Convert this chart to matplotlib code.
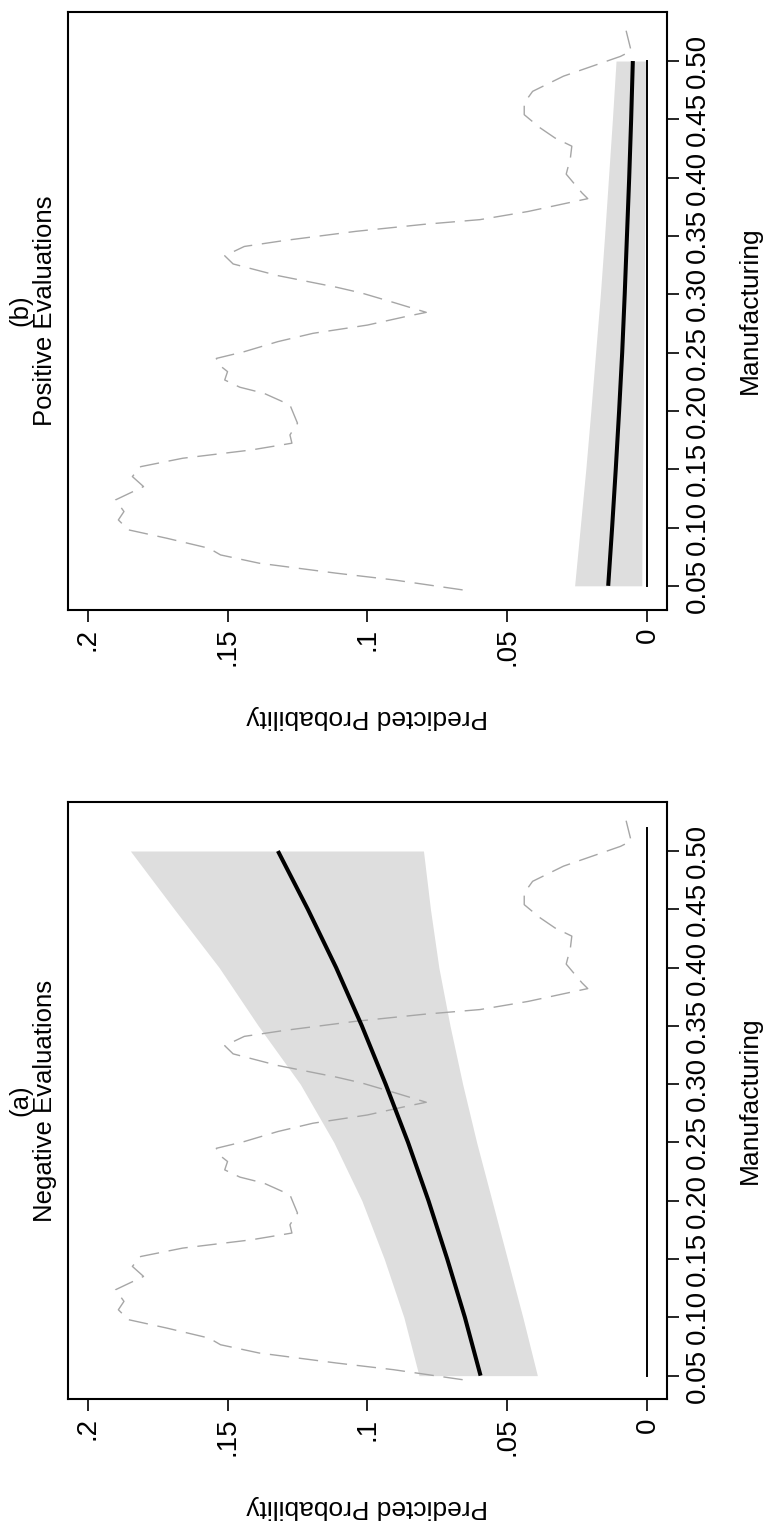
import matplotlib
matplotlib.use("Agg")
from matplotlib import pyplot as plt

plt.rcParams['font.family'] = ['Liberation Sans', 'DejaVu Sans']

# manufacturing share grid used for the predictions
manuf = [0.05, 0.10, 0.15, 0.20, 0.25, 0.30, 0.35, 0.40, 0.45, 0.50]

# (a) negative evaluations
neg_pred = [0.0596, 0.0652, 0.0715, 0.0782, 0.0855, 0.0935, 0.1020, 0.1112, 0.1213, 0.1320]
neg_lo = [0.0393, 0.0445, 0.0500, 0.0555, 0.0610, 0.0660, 0.0705, 0.0745, 0.0775, 0.0800]
neg_hi = [0.0816, 0.0870, 0.0940, 0.1020, 0.1120, 0.1240, 0.1390, 0.1530, 0.1690, 0.1847]

# (b) positive evaluations
pos_pred = [0.0140, 0.0126, 0.0113, 0.0101, 0.0090, 0.0081, 0.0073, 0.0065, 0.0058, 0.0052]
pos_lo = [0.0020, 0.0019, 0.0017, 0.0015, 0.0013, 0.0011, 0.0010, 0.0008, 0.0007, 0.0006]
pos_hi = [0.0260, 0.0240, 0.0220, 0.0202, 0.0185, 0.0168, 0.0153, 0.0139, 0.0125, 0.0112]

# kernel density of manufacturing (drawn on the probability scale)
dens_x = [0.0465, 0.0551, 0.0608, 0.0694, 0.0765, 0.0822, 0.0908, 0.0980, 0.1065, 0.1137,
          0.1237, 0.1351, 0.1437, 0.1522, 0.1594, 0.1665, 0.1723, 0.1794, 0.1894, 0.2051,
          0.2151, 0.2203, 0.2265, 0.2337, 0.2394, 0.2450, 0.2508, 0.2594, 0.2665, 0.2736,
          0.2808, 0.2845, 0.2930, 0.3010, 0.3060, 0.3160, 0.3260, 0.3330, 0.3410, 0.3460,
          0.3540, 0.3600, 0.3640, 0.3710, 0.3820, 0.3870, 0.4030, 0.4170, 0.4270, 0.4340,
          0.4430, 0.4540, 0.4640, 0.4740, 0.4870, 0.4970, 0.5040, 0.5086, 0.5260]
dens_y = [0.0660, 0.0907, 0.1110, 0.1387, 0.1525, 0.1566, 0.1717, 0.1854, 0.1890, 0.1870,
          0.1900, 0.1800, 0.1840, 0.1810, 0.1660, 0.1415, 0.1270, 0.1277, 0.1250, 0.1277,
          0.1370, 0.1456, 0.1510, 0.1500, 0.1530, 0.1540, 0.1440, 0.1320, 0.1195, 0.1000,
          0.0865, 0.0790, 0.0907, 0.1020, 0.1110, 0.1320, 0.1480, 0.1510, 0.1440, 0.1300,
          0.1040, 0.0797, 0.0598, 0.0426, 0.0213, 0.0234, 0.0290, 0.0275, 0.0270, 0.0330,
          0.0385, 0.0440, 0.0440, 0.0410, 0.0300, 0.0180, 0.0096, 0.0058, 0.0076]

prob_ticks = [0.2, 0.15, 0.1, 0.05, 0]
prob_labels = ['.2', '.15', '.1', '.05', '0']
manuf_ticks = manuf
manuf_labels = ['%.2f' % m for m in manuf]

W, H = 773, 1529
fig = plt.figure(figsize=(W / 100, H / 100), dpi=100)

panels = [
    # box in pixels: left, top, right, bottom
    ((67.7, 801.7, 666.7, 1399.3), neg_pred, neg_lo, neg_hi, 0.52, '(a)', 'Negative Evaluations'),
    ((67.7, 11.7, 666.7, 609.5), pos_pred, pos_lo, pos_hi, 0.50, '(b)', 'Positive Evaluations'),
]

for box, pred, lo, hi, zero_end, tag, title in panels:
    l, t, r, b = box
    ax = fig.add_axes([l / W, 1 - b / H, (r - l) / W, (b - t) / H])

    ax.fill_betweenx(manuf, lo, hi, color='#dedede', lw=0)
    ax.plot([0, 0], [manuf[0], zero_end], color='black', lw=1.4)
    ax.plot(dens_y, dens_x, color='#a6a6a6', lw=1.0, linestyle=(0, (14, 7)))
    ax.plot(pred, manuf, color='black', lw=2.9, solid_capstyle='butt')

    ax.set_xlim(0.2071, -0.0069)
    ax.set_ylim(0.0297, 0.5423)

    ax.set_xticks(prob_ticks)
    ax.set_xticklabels(prob_labels, rotation=90, fontsize=20)
    ax.yaxis.tick_right()
    ax.set_yticks(manuf_ticks)
    ax.set_yticklabels(manuf_labels, rotation=90, fontsize=20, va='center')
    ax.tick_params(length=8.6, width=1.2, pad=4.5)

    for s in ax.spines.values():
        s.set_linewidth(1.5)

    ax.set_xlabel('Predicted Probability', rotation=180, fontsize=19, ha='center', va='center')
    ax.xaxis.set_label_coords(0.5, -0.18)
    ax.yaxis.set_label_position('right')
    ax.set_ylabel('Manufacturing', rotation=90, fontsize=19, ha='center', va='center')
    ax.yaxis.set_label_coords(1.139, 0.5)

    cy = 1 - (t + b) / 2 / H
    fig.text(20 / W, cy, tag, rotation=90, fontsize=18.5, ha='center', va='center')
    fig.text(45 / W, cy, title, rotation=90, fontsize=18.5, ha='center', va='center')

fig.savefig('out.png', dpi=100)
